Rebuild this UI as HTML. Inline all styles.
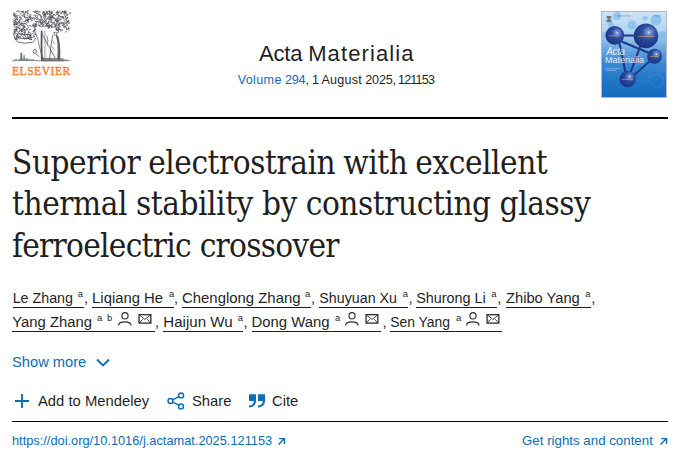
<!DOCTYPE html>
<html lang="en">
<head>
<meta charset="utf-8">
<title>Superior electrostrain with excellent thermal stability by constructing glassy ferroelectric crossover - Acta Materialia</title>
<style>
*{margin:0;padding:0;box-sizing:border-box}
html,body{width:677px;height:454px;overflow:hidden;background:#fff}
body{position:relative;font-family:"Liberation Sans",Arial,sans-serif;color:#1f1f1f}
a{color:#0b6db3;text-decoration:none}
.abs{position:absolute;white-space:nowrap}
#logo{left:12px;top:9px;width:60px;height:68px}
#elsevier{left:12px;top:64.4px;font-family:"Liberation Serif",serif;font-size:11.5px;line-height:14px;letter-spacing:0.55px;color:#f47b26;-webkit-text-stroke:0.35px #f47b26}
#jtitle{left:0;width:677px;height:26px;top:40.7px;font-size:22px;line-height:26px;color:#1f1f1f}
#jtitle span{position:absolute;top:0}
#jvol{left:0;width:677px;top:71px;height:18px;font-size:12.6px;line-height:18px;color:#1f1f1f}
#jvol span{position:absolute;top:0;white-space:pre}
#cover{left:601px;top:11px;width:66px;height:87px}
.hr1{left:12px;top:117px;width:656px;height:2px;background:#000}
.hr2{left:12px;top:421px;width:656px;height:1px;background:#000}
#title{left:12px;top:141.5px;font-weight:normal;font-family:"DejaVu Serif Condensed","DejaVu Serif","Liberation Serif",serif;font-size:33px;line-height:41.9px;color:#1f1f1f;letter-spacing:-0.45px}
.au{position:absolute;height:20px;font-size:14.6px;line-height:20px;color:#1f1f1f;white-space:nowrap;border-bottom:1px solid #1f1f1f}
.au .s{position:absolute;font-size:9.4px;line-height:10px;top:0.85px}
.au svg{position:absolute}
.cm{position:absolute;font-size:14.6px;line-height:20px}
#show{left:12px;top:353px;font-size:14.7px;line-height:18px;color:#0b6db3}
#act{left:0;top:391px;width:400px;height:22px;font-size:14.8px;line-height:20px;color:#1f1f1f}
#act span, #act svg{position:absolute}
#doi{left:12px;top:433px;font-size:12.8px;line-height:16px}
#rights{left:522px;top:433px;font-size:13.3px;line-height:16px}
</style>
</head>
<body>

<div class="abs" id="logo"><svg width="60" height="68" viewBox="12 9 60 68">
<g fill="none" stroke="#50555b" stroke-linecap="round">
<path stroke-width="0.7" d="M65.7 26.1Q64.5 27.3 63.3 26.0M23.6 25.5Q25.5 25.7 25.0 27.2M35.6 25.7Q34.2 24.6 35.4 23.2M57.4 21.4Q55.8 22.0 55.9 20.5M39.1 19.8Q40.6 18.5 42.1 19.8M31.0 18.2Q31.8 19.7 30.6 19.7M61.3 23.4Q63.0 21.8 63.9 22.7M65.8 12.3Q63.6 13.0 64.0 14.0M28.4 13.4Q28.2 15.9 26.9 16.0M53.3 10.9Q52.1 12.4 51.2 11.3M23.9 35.0Q25.9 35.4 25.5 36.8M14.1 16.8Q16.1 15.8 16.5 16.7M21.3 25.3Q22.9 26.6 23.7 25.4M17.2 17.5Q17.3 15.8 16.3 16.4M62.4 16.6Q64.3 17.1 64.0 19.0M22.0 31.6Q21.4 30.0 19.7 30.7M47.4 24.6Q47.8 26.4 48.6 25.5M53.2 19.1Q55.0 18.3 54.2 17.0M20.2 26.6Q18.2 25.7 18.8 24.6M65.3 17.3Q66.7 18.6 67.1 17.5M18.3 15.1Q17.5 16.7 16.4 15.7M65.6 26.4Q65.2 28.4 64.5 27.9M49.3 26.7Q48.1 25.0 49.0 24.8M65.2 22.3Q65.9 20.7 64.0 19.7M14.7 27.2Q16.1 28.7 17.2 27.5M47.7 13.2Q47.7 11.2 45.8 10.9M46.1 25.3Q45.8 23.5 46.9 24.0M18.0 11.2Q19.7 12.0 19.5 10.8M50.6 25.3Q52.6 25.1 52.1 24.1M34.9 30.0Q33.3 30.8 34.3 31.5M64.1 11.9Q66.6 11.8 66.8 13.0M60.4 23.3Q58.7 21.9 57.9 23.0M60.2 19.8Q59.9 17.9 58.3 18.3M30.6 37.0Q32.0 38.3 32.2 37.2M56.8 19.4Q56.0 17.5 57.3 16.8M52.0 17.2Q51.4 18.6 50.4 17.4M43.5 11.7Q44.9 13.3 43.9 14.3M54.2 14.9Q52.9 16.5 51.9 15.5M24.7 34.7Q24.5 32.5 25.7 32.5M68.7 28.5Q67.9 26.7 69.2 26.6M17.7 25.3Q17.1 23.7 15.2 24.5M37.4 11.7Q35.6 12.6 35.0 11.2M56.2 25.2Q54.2 25.8 53.7 24.2M61.1 29.3Q61.6 31.2 60.3 31.1M21.0 28.7Q19.6 30.0 20.7 30.9M42.4 23.9Q44.0 22.4 43.1 21.7M58.6 24.0Q57.4 25.6 58.7 26.2M40.2 21.1Q39.9 23.3 41.0 23.4M57.4 11.3Q56.8 13.0 58.0 12.9M20.0 27.6Q19.0 29.3 20.0 29.3M48.1 28.5Q48.1 26.6 49.6 26.8M61.5 31.0Q63.0 31.2 62.6 29.6M31.0 21.1Q31.0 19.6 32.6 20.2M20.6 18.5Q19.2 17.4 20.4 16.7M66.6 28.7Q65.2 27.4 66.2 27.0M45.5 22.5Q47.2 21.8 46.3 20.7M52.1 16.8Q53.4 16.0 53.5 17.5M40.4 16.9Q41.7 16.3 41.7 18.0M65.8 13.7Q67.6 15.5 68.5 14.8M18.5 23.6Q18.0 25.3 16.8 24.5M13.8 34.0Q15.5 33.5 14.7 32.6M47.5 13.7Q46.5 12.4 48.0 11.8M48.9 24.1Q48.8 22.4 47.1 22.8M59.4 24.1Q61.3 24.3 61.7 22.4M56.6 24.1Q57.5 22.6 56.4 22.6M15.8 19.6Q16.6 18.1 17.6 19.2M14.3 31.1Q15.5 29.8 14.2 29.3M56.4 32.2Q57.0 33.5 58.2 32.3M59.1 13.1Q57.0 13.0 57.0 11.5M66.5 23.4Q68.1 21.9 69.2 22.9M41.2 20.0Q39.4 19.8 39.7 21.2M16.0 21.1Q13.8 21.5 14.1 22.5M64.6 24.9Q62.4 26.2 61.7 25.3M18.6 37.6Q18.8 36.0 20.0 36.8M19.6 31.4Q18.6 32.9 17.9 31.9M21.8 22.7Q21.6 24.4 23.1 24.3M51.9 22.7Q50.6 21.6 51.8 20.0M54.9 18.5Q55.6 20.7 57.0 20.3M52.8 16.9Q53.9 18.3 52.5 18.6M50.2 17.1Q48.4 15.9 49.2 14.9M18.8 28.6Q20.3 28.0 20.2 29.3M49.0 23.0Q47.6 21.9 47.3 23.2M58.7 25.5Q58.4 23.3 59.9 23.0M55.6 23.6Q55.5 25.4 56.6 24.9M23.5 32.4Q22.3 30.6 21.6 31.4M17.7 29.4Q16.4 28.2 15.2 29.6M13.5 20.9Q15.5 21.1 15.5 19.6M56.6 21.5Q58.4 21.4 57.8 20.3M19.7 34.3Q18.5 32.4 17.1 33.1M58.8 20.7Q58.9 22.8 57.9 22.6M34.0 23.6Q36.0 24.5 35.3 25.5M29.0 11.2Q28.3 9.9 26.8 11.0M16.7 28.8Q15.9 27.2 17.0 27.3M19.0 21.0Q20.5 19.9 21.4 21.4M50.0 18.7Q49.0 20.3 50.5 21.3M35.5 21.8Q37.3 22.7 37.9 21.3M58.9 12.9Q59.3 11.5 57.8 11.9M49.5 28.0Q50.5 26.6 48.8 25.4M65.2 18.7Q67.1 19.6 66.5 20.8M35.2 28.2Q33.7 30.0 34.8 31.0M19.5 32.2Q18.4 31.1 19.8 30.5M14.0 26.6Q13.5 24.7 14.6 24.8M25.4 18.4Q23.9 17.1 24.9 16.1M64.0 24.0Q65.8 24.4 66.4 22.4M40.6 24.0Q41.8 22.4 43.0 23.3M25.6 12.2Q27.0 13.0 28.1 11.3M57.9 12.4Q59.6 13.0 60.4 11.1M38.7 18.8Q36.3 18.8 36.2 20.1M31.3 19.2Q33.2 19.0 32.9 17.6M16.0 29.7Q17.5 29.8 16.8 31.2M17.7 19.5Q18.8 18.4 17.4 18.0M17.7 35.6Q16.3 36.5 15.6 35.0M43.0 15.8Q44.7 15.1 43.9 14.1M51.0 12.7Q51.3 14.3 52.5 13.5M19.9 25.4Q22.1 24.7 21.6 23.5M45.2 25.8Q46.6 24.6 48.1 26.0M21.7 31.5Q23.4 32.2 24.1 30.5M44.7 13.4Q46.3 14.4 45.4 15.3M66.9 29.4Q67.6 27.4 66.6 27.4M21.0 13.7Q19.2 12.4 19.9 11.4M15.1 26.0Q13.6 24.9 14.6 24.5M20.1 24.1Q20.6 25.8 22.7 25.4M20.9 17.4Q21.1 19.5 22.4 19.4M36.5 11.0Q36.1 12.9 34.4 12.5M47.7 11.1Q45.9 12.2 46.7 12.8M34.5 27.6Q33.9 25.3 35.2 24.9M43.7 20.5Q45.1 21.8 44.0 22.9M66.3 29.5Q68.5 28.8 68.8 29.9M40.2 24.5Q38.6 25.1 39.5 25.8M63.3 25.7Q61.9 24.7 63.1 23.9M47.3 14.6Q49.0 13.7 48.1 12.9M23.6 28.9Q24.8 28.0 24.9 29.5M20.9 35.8Q21.3 33.4 22.5 33.5M36.5 11.6Q35.2 10.3 34.9 11.3M42.6 19.3Q41.2 20.1 40.9 18.5M57.9 24.0Q56.6 22.8 56.3 24.0M36.3 25.0Q35.2 23.2 33.7 23.9M55.9 20.7Q54.6 21.4 54.6 19.9M62.7 22.9Q60.6 23.4 60.5 22.2M55.6 29.5Q56.2 27.7 56.8 28.6M59.5 23.8Q59.3 25.9 58.0 25.6M38.9 21.0Q37.5 21.0 38.2 22.5M24.6 39.3Q25.5 38.2 24.0 37.9M33.2 26.3Q35.1 27.2 34.5 28.8M30.4 37.9Q31.7 38.9 32.2 37.5M20.7 33.8Q21.9 32.1 22.6 33.0M62.1 14.5Q60.5 13.8 61.4 12.8M29.8 19.7Q29.1 18.0 30.6 17.5M26.1 20.6Q28.3 20.6 28.3 19.5M51.1 26.0Q53.2 25.7 53.6 27.3M15.6 30.6Q16.3 32.4 15.2 32.3M14.6 37.0Q14.3 38.7 16.3 39.3M16.6 36.5Q18.1 37.1 18.3 35.5M22.9 36.6Q24.7 37.1 24.1 38.7M44.2 19.1Q45.1 17.2 43.7 16.6M25.6 29.9Q24.6 31.2 24.2 29.9M62.8 16.5Q62.1 17.8 63.6 17.7M61.8 11.5Q63.5 11.2 63.1 12.6M16.1 24.7Q16.8 23.0 15.2 22.2M42.1 23.2Q41.1 25.1 42.1 25.4M36.4 22.7Q37.9 24.7 37.0 25.6M44.7 26.3Q46.1 24.4 47.4 25.1M26.0 20.8Q27.8 19.2 28.7 19.9M16.3 22.0Q14.6 20.7 15.4 19.4M23.5 28.9Q25.1 29.2 24.4 30.4M56.3 26.3Q55.3 27.7 53.9 26.5M24.7 23.3Q25.0 24.9 26.9 24.4M48.4 27.9Q47.2 26.2 48.3 25.7M33.6 15.6Q34.0 14.0 35.4 14.9M64.7 11.2Q65.5 12.6 63.8 13.0M34.7 19.1Q36.8 18.8 36.5 17.4M26.6 11.9Q28.6 12.7 28.0 13.8M36.4 26.5Q36.9 24.5 35.6 24.4M38.7 23.1Q40.9 22.8 40.7 21.3M25.9 20.3Q26.5 21.7 24.9 21.7M55.6 26.7Q56.9 28.1 58.2 26.9M16.8 39.1Q15.7 40.0 15.0 38.4M62.5 18.4Q62.2 16.5 61.5 17.2M41.1 26.9Q43.0 27.2 42.8 26.1M65.8 17.3Q64.7 15.8 66.0 15.3M58.8 26.5Q57.5 27.9 58.7 29.3M14.3 23.6Q12.6 23.9 13.3 24.7M63.5 12.9Q64.4 14.4 65.4 13.3M27.9 32.9Q27.1 34.2 28.8 34.9M36.4 24.4Q34.9 26.1 36.0 27.1M64.8 11.8Q64.9 13.7 66.3 13.4M27.7 17.9Q25.5 16.6 24.9 17.5M56.6 13.1Q58.5 11.8 57.9 10.6M35.6 15.7Q34.7 17.2 36.2 17.3M34.1 20.1Q32.8 18.8 34.0 17.8M30.7 38.9Q28.6 39.8 28.2 38.7M16.0 19.0Q14.1 17.8 13.4 18.9M49.2 22.8Q47.7 22.7 48.5 21.3M60.2 29.5Q58.5 29.0 58.0 30.7M20.1 23.1Q18.7 23.2 19.3 21.6M28.3 19.6Q27.0 20.6 28.2 22.0M53.7 14.5Q55.3 13.7 55.4 15.0M61.8 16.2Q62.9 18.0 63.7 17.1M54.1 24.2Q56.0 24.5 55.6 26.0M58.6 15.4Q57.7 16.6 59.3 16.8M37.7 15.6Q38.0 13.7 39.0 14.4M35.8 21.3Q36.2 23.0 37.3 22.1M13.2 21.8Q13.4 23.9 14.9 23.8M35.6 12.4Q34.2 10.8 33.2 11.7M23.0 11.4Q24.7 12.1 23.8 12.8M14.4 29.1Q16.5 28.9 16.3 29.9M33.8 36.2Q32.4 37.4 33.6 38.0M14.3 29.8Q13.3 31.3 14.6 31.8M48.7 25.6Q47.2 26.0 48.2 27.0M28.1 17.7Q29.7 18.0 28.7 19.0M51.8 16.4Q52.3 18.2 53.1 17.4M14.3 23.9Q16.1 23.5 15.7 24.4M23.0 12.7Q22.2 10.8 21.0 11.5M67.9 17.9Q67.6 19.6 65.8 19.2M17.0 23.6Q19.1 23.9 19.5 22.2M16.2 31.2Q14.3 31.6 15.0 32.9M45.4 14.3Q47.3 13.5 46.7 12.2M41.6 23.1Q40.3 24.0 40.2 22.7M38.7 20.0Q39.9 21.5 40.2 20.4M55.1 21.0Q55.8 18.6 54.8 18.0M64.1 14.2Q65.9 15.0 65.3 16.9M58.5 27.6Q59.2 26.3 60.0 27.6M27.3 37.5Q25.2 37.0 25.1 38.2M28.9 32.1Q29.3 33.7 31.0 33.1M17.1 27.1Q18.8 26.4 19.7 28.1M21.7 22.8Q21.3 24.1 22.8 23.6M25.5 20.2Q25.2 21.8 23.5 21.4M24.8 31.6Q25.0 29.6 26.6 29.8M50.5 17.5Q52.1 18.5 51.2 20.0M39.6 14.8Q40.3 17.0 41.8 16.8M13.5 12.8Q12.6 14.4 14.2 15.3M24.4 12.9Q23.1 14.4 24.2 14.9M20.6 14.6Q21.5 16.6 22.5 15.9M46.0 20.0Q45.8 18.4 47.3 18.7M47.3 25.5Q47.9 27.2 49.2 26.3M50.5 19.5Q48.9 18.6 49.8 18.3M34.4 30.4Q36.3 30.0 35.7 28.9M18.0 22.7Q16.4 22.5 16.2 24.5M51.1 15.7Q51.6 17.4 52.6 16.5M50.2 12.5Q49.2 13.9 50.4 14.0M26.1 28.6Q26.0 30.2 27.3 29.6M42.4 13.7Q43.9 13.3 42.8 12.4M21.9 22.9Q21.2 25.2 20.1 25.0M45.1 12.8Q44.1 14.7 45.3 15.2M57.3 18.8Q57.1 20.4 56.0 19.5M22.7 14.0Q24.9 15.0 24.5 16.2M45.2 16.3Q42.9 15.9 43.0 14.3M13.6 15.7Q15.4 14.2 14.7 13.3M43.3 11.5Q45.1 11.4 44.7 12.7M30.1 17.7Q28.6 16.1 27.7 17.1M64.5 23.7Q62.9 25.3 63.7 26.2M17.8 37.0Q15.8 37.2 16.0 38.6M15.8 38.5Q16.8 40.2 17.9 39.3M25.7 13.8Q24.3 13.5 24.4 15.2M54.8 23.0Q55.0 21.6 53.5 22.1M33.8 30.5Q33.7 32.4 32.6 31.9M56.0 12.3Q56.0 13.8 57.5 13.3M45.6 13.8Q43.8 13.7 44.2 14.8M31.1 37.9Q30.1 36.8 31.7 35.6M40.9 23.7Q41.2 25.3 42.4 24.6M55.9 29.9Q57.7 31.2 58.5 30.0M59.8 16.3Q61.9 16.1 62.0 17.5M38.5 25.1Q40.0 24.8 39.9 26.4M67.5 22.4Q67.3 20.3 68.8 20.2M18.5 21.4Q20.4 21.6 20.4 23.6M39.9 11.6Q38.2 11.0 38.1 12.4M52.3 23.5Q51.2 22.5 52.6 22.0M34.5 37.4Q34.9 35.5 33.6 35.5M46.3 26.6Q48.0 27.5 48.2 26.4M27.9 35.0Q26.5 35.7 26.3 34.1M27.5 18.6Q29.1 20.0 28.2 21.4M18.8 20.8Q20.4 20.7 19.7 19.6M44.4 21.7Q44.2 23.6 46.1 24.0M18.6 36.8Q17.9 38.6 18.9 38.5M56.6 30.0Q58.9 29.8 58.9 28.3M29.6 39.2Q28.2 38.0 29.3 37.4M51.1 20.1Q49.2 20.6 49.4 19.4M29.2 19.8Q27.8 21.0 26.5 19.6M44.0 14.9Q46.1 14.7 46.3 16.3M57.2 19.2Q58.3 21.0 59.9 20.2M43.9 26.6Q42.5 26.4 43.2 24.8M32.9 18.3Q33.8 16.7 34.4 17.8M67.8 17.0Q67.3 19.1 66.5 18.5M51.0 12.8Q52.8 11.9 53.3 13.2M51.7 13.4Q50.2 12.8 50.9 11.1M18.8 15.2Q20.5 16.2 19.7 17.5M32.1 34.0Q32.9 32.3 34.9 32.9M66.3 11.2Q65.2 10.0 64.0 11.3M17.9 27.9Q18.9 26.4 19.3 27.5M36.6 15.5Q38.3 17.1 37.5 17.7M16.9 37.1Q18.9 38.0 19.6 36.7M25.5 23.6Q25.7 21.9 26.9 22.6M43.0 21.7Q41.5 21.6 42.0 19.8M36.6 17.2Q38.1 17.9 37.1 19.3M32.0 18.5Q32.4 16.8 30.9 17.0M14.3 20.9Q15.9 20.2 16.3 21.8M58.0 28.6Q60.2 28.3 60.4 29.8M15.6 29.2Q17.2 29.1 17.2 31.0M57.6 21.8Q59.1 20.9 58.1 19.9M16.0 11.6Q17.4 10.1 18.0 11.0M21.1 34.4Q21.5 32.9 22.7 33.9M26.5 38.9Q28.6 38.7 28.4 37.3M19.8 19.6Q20.1 18.1 21.3 19.1M51.6 14.6Q49.8 15.4 50.5 16.7M56.4 28.1Q57.7 26.7 57.9 27.6M49.4 14.0Q47.3 13.0 46.6 14.3M44.0 19.9Q45.1 18.9 45.9 20.5M14.4 24.7Q15.6 23.1 16.7 24.1M23.4 11.0Q22.0 11.2 22.9 12.4M27.3 35.4Q26.9 37.1 28.1 36.8M46.5 19.1Q47.5 17.4 48.5 18.4M30.9 29.1Q28.7 29.2 28.8 30.5M18.5 33.5Q16.8 33.7 17.2 35.4M58.6 32.3Q58.9 30.1 57.7 30.0M39.3 13.5Q38.5 14.8 37.2 13.5M29.0 25.3Q31.0 25.0 31.3 26.7M35.7 11.9Q37.4 13.0 36.5 14.2M41.7 22.0Q40.7 23.2 42.2 23.6M58.7 16.4Q58.5 14.4 59.4 14.7M50.5 26.3Q50.9 24.7 49.0 24.3M49.7 12.7Q50.5 11.4 48.9 11.3M30.7 16.7Q29.0 15.9 29.8 14.3M51.1 25.1Q50.8 26.9 49.4 26.2M66.8 31.9Q64.9 31.0 64.8 32.0M63.4 27.2Q64.2 25.8 65.1 27.0M42.4 21.1Q41.0 21.8 42.2 22.8M66.7 21.6Q68.8 21.9 69.3 20.3M46.1 20.6Q45.0 22.1 44.6 21.0M43.5 26.3Q42.2 25.7 43.5 24.5M33.8 25.0Q31.8 25.0 32.2 26.2M43.3 17.7Q44.7 15.8 45.6 16.4M56.5 29.1Q56.4 27.0 54.6 26.8M36.9 10.9Q38.5 10.4 38.4 11.8M57.9 30.1Q58.3 28.5 59.5 29.4M39.0 25.0Q39.0 26.6 40.7 26.3M16.2 12.9Q14.8 13.8 15.9 15.4M57.7 18.7Q59.3 17.5 58.4 17.1M53.5 14.8Q55.4 14.2 55.5 15.5M48.3 17.5Q47.0 18.6 48.4 20.1M49.4 21.7Q50.6 23.2 52.1 22.1M62.6 16.9Q63.5 18.4 64.1 17.2M33.9 25.1Q32.9 26.7 32.0 25.7M30.3 36.4Q28.8 35.5 28.2 37.0M51.6 27.4Q50.9 25.6 52.5 24.7M29.9 34.8Q31.8 35.4 32.2 34.0M50.2 18.1Q51.7 16.8 50.5 15.8M32.6 24.8Q33.4 26.6 34.3 25.9M15.9 17.7Q16.6 16.3 15.1 16.5M46.0 18.9Q44.5 18.4 45.4 16.7M20.8 36.7Q20.9 38.9 19.6 38.9M41.2 16.1Q40.6 13.9 39.2 14.1M58.9 24.6Q58.9 26.6 60.4 26.4M44.8 25.2Q45.5 26.6 46.6 25.5M17.3 20.6Q15.5 19.4 16.4 18.2M28.6 22.5Q27.7 21.1 27.2 22.2M47.8 17.4Q49.5 16.4 50.7 17.9M28.1 26.9Q29.1 25.9 27.6 25.5M25.0 34.1Q23.5 33.6 24.4 32.2M29.0 27.4Q27.0 28.2 27.6 29.2M68.0 21.9Q67.6 23.4 66.0 22.7M51.6 16.2Q51.8 18.0 50.0 18.2M31.2 39.1Q30.2 37.9 29.7 39.3M15.7 33.8Q18.1 33.7 18.2 34.9M15.5 22.3Q17.6 23.1 17.9 22.1M28.5 32.8Q29.4 31.5 27.9 31.0M25.6 11.2Q24.4 12.5 25.6 12.6M22.9 15.9Q25.0 16.0 24.9 17.4M52.5 27.3Q50.6 26.9 50.7 28.3M25.8 11.2Q26.7 12.5 25.3 12.6M29.3 16.9Q31.2 16.7 31.1 14.9"/>
<path stroke-width="1.05" d="M55.4 25.7h0.9M60.6 13.0h0.8M68.3 28.7h1.0M30.7 39.4h1.0M69.4 13.0h1.3M13.8 15.5h0.9M49.5 14.2h1.0M66.5 25.1h1.1M22.9 26.0h1.2M51.4 17.8h0.9M44.0 21.8h1.0M49.0 11.1h0.8M50.4 17.7h0.7M56.4 21.7h1.3M44.8 13.9h1.0M27.9 37.8h1.1M56.2 12.4h0.6M58.5 15.2h0.7M14.7 16.0h0.9M67.6 21.3h0.8M60.2 16.7h1.0M15.5 29.4h0.9M59.9 19.0h1.1M23.6 27.1h1.3M26.7 19.8h1.2M51.4 12.7h0.7M26.5 20.2h1.2M34.8 34.5h0.9M16.4 27.0h0.9M43.3 12.1h0.6M69.0 22.9h0.8M21.5 30.3h1.2M23.3 27.3h0.9M56.7 29.4h0.8M23.8 34.8h0.7M62.3 11.6h0.7M15.9 38.1h0.7M22.3 11.8h0.6M63.0 23.3h0.7M15.7 38.9h1.0M65.2 11.8h0.7M29.3 16.9h0.7M24.4 32.0h0.7M22.6 28.4h0.9M21.5 29.5h1.0M35.1 26.4h0.6M48.1 17.0h0.8M46.5 23.6h1.0M66.6 14.9h0.9M53.4 23.0h1.1M64.8 11.9h0.8M29.7 35.6h1.1M23.6 23.7h1.2M56.6 14.3h1.3M33.6 30.8h1.3"/>
<path stroke-width="0.85" d="M14 32Q13.2 38.5 17.5 41.8Q24 44.5 32.5 42.2Q35 41 35.5 38.5M16.5 36.5Q22 40.2 31 37.8M19 33.5Q24 36 30 34.5"/>
<path stroke-width="0.7" d="M35.5 32.5Q38.5 40 39.5 47Q41 54 43.5 59.5"/>
<path stroke-width="1.8" d="M41.7 31.5Q41.3 45 41.8 59.5"/>
<path stroke-width="0.6" d="M44.8 31.5Q45.2 45 44.9 58"/>
<path stroke-width="0.7" d="M42 34L55.2 58M47 36Q48.5 40 47.5 45"/>
<path stroke-width="0.8" d="M34.8 49.4Q32 50.6 33.4 53Q35.4 54.4 36.4 52.2Q37 50 34.8 49.4M35.6 53.2L38.6 56.5"/>
<path stroke-width="0.75" d="M52.8 35.4Q50.6 45 49.6 59.3M54.2 32.6Q55.6 31.6 56.6 33Q57 35 55.2 35.6Q53.6 35.4 54.2 32.6"/>
<path stroke-width="0.5" d="M52 40L55 44M51.5 46L54.5 50M51 52L54 55"/>
<path stroke-width="0.7" d="M12.5 60.8Q24 60.2 36 60.6Q50 61 70 60.6"/>
<path stroke-width="0.6" d="M15 59.6l2 -0.3M27 59.2l3 0.2M31 59.8l2.5-0.4M64 59.8l3 0.2"/>
</g>
<g fill="#50555b">
<path d="M56.2 34.4Q58 35 58.8 38Q60.4 45 60.3 52Q60.4 56 60.2 59.6L57.2 59.6Q57.8 52 57.6 45Q57.2 39 55.8 36Z" opacity="0.92"/>
<path d="M41 57.8L63.5 58.2L63.8 61.2L41 61.2Z" opacity="0.7"/>
<path d="M20.6 53.2Q21.4 51.6 22.1 53.2L22.4 59.6L20.2 59.6Z" opacity="0.85"/>
<path d="M23.4 55.2Q24.2 54 24.8 55.6L25.2 59.6L23.2 59.6Z" opacity="0.6"/>
<path d="M18.5 58.4L28 58.6L28 60.4L18.5 60.4Z" opacity="0.55"/>
</g>
</svg></div>
<div class="abs" id="elsevier">ELSEVIER</div>

<div class="abs" id="jtitle"><span style="left:259px;letter-spacing:-0.2px">Acta</span> <span style="left:308.2px;letter-spacing:1.1px">Materialia</span></div>
<div class="abs" id="jvol"><a href="#"><span style="left:237.7px;letter-spacing:0.34px">Volume</span> <span style="left:285px;letter-spacing:-0.25px">294</span></a><span style="left:305.6px">, </span><span style="left:312.1px">1</span> <span style="left:321.4px;letter-spacing:0.22px">August</span> <span style="left:365.3px;letter-spacing:-0.18px">2025</span><span style="left:392.6px">, </span><span style="left:398px;letter-spacing:-0.82px">121153</span></div>

<div class="abs" id="cover"><svg width="66" height="87" viewBox="0 0 66 87">
<defs>
<linearGradient id="cbg" x1="0" y1="0" x2="0" y2="1">
<stop offset="0" stop-color="#cfe3f5"/>
<stop offset="0.22" stop-color="#b3d4f1"/>
<stop offset="0.42" stop-color="#6eaae2"/>
<stop offset="0.6" stop-color="#3b89d5"/>
<stop offset="0.8" stop-color="#2176c7"/>
<stop offset="1" stop-color="#176bbd"/>
</linearGradient>
<radialGradient id="sph" cx="0.62" cy="0.36" r="0.72">
<stop offset="0" stop-color="#dfe6fa"/>
<stop offset="0.1" stop-color="#7f95d6"/>
<stop offset="0.4" stop-color="#2c4c9f"/>
<stop offset="1" stop-color="#172f78"/>
</radialGradient>
</defs>
<rect x="0" y="0" width="66" height="87" fill="#b4b8bc"/>
<rect x="1" y="1" width="64" height="85" fill="url(#cbg)"/>
<g fill="#7fbdec" opacity="0.75">
<circle cx="16" cy="5" r="4"/><circle cx="31" cy="14" r="4.5"/><circle cx="55" cy="9" r="5.5"/>
<circle cx="62" cy="24" r="4"/><circle cx="10" cy="14" r="3"/><circle cx="4" cy="24" r="3"/>
<circle cx="36" cy="33" r="3.5"/><circle cx="44" cy="7" r="2.5"/>
</g>
<g fill="none" stroke="#9ccaf0" stroke-width="0.5" opacity="0.3">
<circle cx="40" cy="62" r="9"/><circle cx="56" cy="70" r="7"/><circle cx="58" cy="40" r="9"/>
</g>
<g fill="#5f6770" opacity="0.85"><path d="M5.5 5h5v2.2h-1.2v1.5h1.2v2.5h-5v-2.5h1.2v-1.5h-1.2z"/></g>
<g fill="#2b3f60" opacity="0.5"><rect x="16" y="4.6" width="14" height="0.7"/><rect x="53" y="4.6" width="6.5" height="0.7"/></g>
<g stroke="#1d3a88" stroke-width="2.1" fill="none" stroke-linecap="round">
<path d="M14 24.5L45 24.5"/>
<path d="M17 29L53 44"/>
<path d="M18 30L25 64"/>
<path d="M40 33L29 63"/>
<path d="M50 49L31 66"/>
</g>
<circle cx="13.8" cy="24.4" r="9.3" fill="url(#sph)"/>
<circle cx="45" cy="24.9" r="12.3" fill="url(#sph)"/>
<circle cx="53.6" cy="45.2" r="7.5" fill="url(#sph)"/>
<circle cx="26.8" cy="68" r="8.3" fill="url(#sph)"/>
<g fill="#d4b23e" opacity="0.65">
<rect x="7.5" y="24.4" width="12" height="0.9"/>
<rect x="37" y="24.9" width="16.5" height="0.9"/>
<rect x="49" y="45.2" width="9" height="0.8"/>
<rect x="21" y="68.2" width="11" height="0.8"/>
</g>
<g fill="#ffffff" font-family="Liberation Sans, sans-serif" opacity="0.85">
<text x="5.4" y="43.6" font-size="10.5" font-style="italic" textLength="18.6" lengthAdjust="spacingAndGlyphs">Acta</text>
<text x="4" y="51.6" font-size="9.2" textLength="39" lengthAdjust="spacingAndGlyphs">Materialia</text>
</g>
<g fill="#e8f1fb" opacity="0.6"><rect x="5" y="57.5" width="14" height="0.6"/><rect x="5" y="59.2" width="10" height="0.6"/></g>
</svg>
</div>

<div class="abs hr1"></div>

<h1 class="abs" id="title"><span style="word-spacing:-1px">Superior electrostrain with excellent</span><br>thermal stability by constructing glassy<br><span style="letter-spacing:-0.72px">ferroelectric crossover</span></h1>

<a class="au" href="#" style="left:12.7px;top:288px;width:71.1px"><span style="font-size:14.27px">Le Zhang</span><span class="s" style="left:65.0px">a</span></a><span class="cm" style="left:84.1px;top:288px">,</span>
<a class="au" href="#" style="left:92.1px;top:288px;width:81.6px"><span style="font-size:14.83px">Liqiang He</span><span class="s" style="left:76.8px">a</span></a><span class="cm" style="left:174.1px;top:288px">,</span>
<a class="au" href="#" style="left:182.0px;top:288px;width:128.5px"><span style="font-size:14.92px">Chenglong Zhang</span><span class="s" style="left:122.9px">a</span></a><span class="cm" style="left:310.9px;top:288px">,</span>
<a class="au" href="#" style="left:319.3px;top:288px;width:88.7px"><span style="font-size:14.26px">Shuyuan Xu</span><span class="s" style="left:83.4px">a</span></a><span class="cm" style="left:408.5px;top:288px">,</span>
<a class="au" href="#" style="left:416.2px;top:288px;width:80.6px"><span style="font-size:14.38px">Shurong Li</span><span class="s" style="left:75.1px">a</span></a><span class="cm" style="left:497.3px;top:288px">,</span>
<a class="au" href="#" style="left:506.0px;top:288px;width:84.8px"><span style="font-size:14.70px">Zhibo Yang</span><span class="s" style="left:79.3px">a</span></a><span class="cm" style="left:591.3px;top:288px">,</span>
<a class="au" href="#" style="left:12.3px;top:312px;width:142.7px"><span style="font-size:14.84px">Yang Zhang</span><span class="s" style="left:84.6px">a</span><span class="s" style="left:94.6px">b</span><svg style="left:104.9px;top:-2px" width="16" height="17" viewBox="0 0 16 17"><g fill="none" stroke="#2e2e2e" stroke-width="1.15"><ellipse cx="8" cy="5.8" rx="3.05" ry="3.15"/><path d="M1.6 15.4C1.6 13.2 4.2 11.8 7.8 11.8C11.4 11.8 14 13.2 14 15.4"/></g></svg><svg style="left:125.1px;top:1px" width="16" height="13" viewBox="0 0 16 13"><g fill="none" stroke="#2e2e2e"><rect x="2.05" y="1.7" width="11.8" height="8.4" stroke-width="1.3"/><path d="M2.2 1.9L7.95 6.4L13.7 1.9M2.3 10L5.7 6.2M13.6 10L10.2 6.2" stroke-width="0.9"/></g></svg></a><span class="cm" style="left:155.1px;top:312px">,</span>
<a class="au" href="#" style="left:163.3px;top:312px;width:79.7px"><span style="font-size:15.08px">Haijun Wu</span><span class="s" style="left:74.4px">a</span></a><span class="cm" style="left:243.5px;top:312px">,</span>
<a class="au" href="#" style="left:251.6px;top:312px;width:129.8px"><span style="font-size:14.87px">Dong Wang</span><span class="s" style="left:83.3px">a</span><svg style="left:92.9px;top:-2px" width="16" height="17" viewBox="0 0 16 17"><g fill="none" stroke="#2e2e2e" stroke-width="1.15"><ellipse cx="8" cy="5.8" rx="3.05" ry="3.15"/><path d="M1.6 15.4C1.6 13.2 4.2 11.8 7.8 11.8C11.4 11.8 14 13.2 14 15.4"/></g></svg><svg style="left:112.6px;top:1px" width="16" height="13" viewBox="0 0 16 13"><g fill="none" stroke="#2e2e2e"><rect x="2.05" y="1.7" width="11.8" height="8.4" stroke-width="1.3"/><path d="M2.2 1.9L7.95 6.4L13.7 1.9M2.3 10L5.7 6.2M13.6 10L10.2 6.2" stroke-width="0.9"/></g></svg></a><span class="cm" style="left:382.6px;top:312px">,</span>
<a class="au" href="#" style="left:390.2px;top:312px;width:111.7px"><span style="font-size:13.91px">Sen Yang</span><span class="s" style="left:65.7px">a</span><svg style="left:74.6px;top:-2px" width="16" height="17" viewBox="0 0 16 17"><g fill="none" stroke="#2e2e2e" stroke-width="1.15"><ellipse cx="8" cy="5.8" rx="3.05" ry="3.15"/><path d="M1.6 15.4C1.6 13.2 4.2 11.8 7.8 11.8C11.4 11.8 14 13.2 14 15.4"/></g></svg><svg style="left:94.6px;top:1px" width="16" height="13" viewBox="0 0 16 13"><g fill="none" stroke="#2e2e2e"><rect x="2.05" y="1.7" width="11.8" height="8.4" stroke-width="1.3"/><path d="M2.2 1.9L7.95 6.4L13.7 1.9M2.3 10L5.7 6.2M13.6 10L10.2 6.2" stroke-width="0.9"/></g></svg></a>

<div class="abs" id="show">Show more<svg style="position:absolute;left:84px;top:4.6px" width="14" height="9" viewBox="0 0 14 9"><path d="M1 1.5L7 7.5L13 1.5" fill="none" stroke="#0b6db3" stroke-width="1.9"/></svg></div>

<div class="abs" id="act">
<svg style="left:14px;top:2px" width="16" height="16" viewBox="0 0 16 16"><path d="M1 8H15M8 1V15" stroke="#0b6db3" stroke-width="1.9" fill="none"/></svg>
<span style="left:38px;top:0">Add to Mendeley</span>
<svg style="left:166px;top:0px" width="20" height="20" viewBox="0 0 20 20"><g fill="none" stroke="#0b6db3" stroke-width="1.45"><circle cx="4.5" cy="10" r="2.45"/><circle cx="15.1" cy="4.4" r="2.45"/><circle cx="15" cy="15.4" r="2.45"/><path d="M6.7 8.8L12.9 5.6M6.7 11.2L12.8 14.2"/></g></svg>
<span style="left:192px;top:0">Share</span>
<svg style="left:248px;top:2px" width="18" height="16" viewBox="0 0 18 16"><g fill="#0b6db3"><path d="M1 1.3H8V7.8C8 11.8 5.6 14.3 1 14.5V12.6C4 12.4 5.7 10.8 5.9 7.9H1Z"/><path d="M10 1.3H17V7.8C17 11.8 14.6 14.3 10 14.5V12.6C13 12.4 14.7 10.8 14.9 7.9H10Z"/></g></svg>
<span style="left:272px;top:0">Cite</span>
</div>

<div class="abs hr2"></div>

<a class="abs" id="doi" href="#">https://doi.org/10.1016/j.actamat.2025.121153<svg style="position:absolute;left:265px;top:4px" width="10" height="10" viewBox="0 0 10 10"><path d="M1.5 7.6L7.5 1.6M2.2 1.6H7.5V6.9" fill="none" stroke="#0b6db3" stroke-width="1.35"/></svg></a>
<a class="abs" id="rights" href="#">Get rights and content<svg style="position:absolute;left:136.6px;top:4px" width="10" height="10" viewBox="0 0 10 10"><path d="M1.5 7.6L7.5 1.6M2.2 1.6H7.5V6.9" fill="none" stroke="#0b6db3" stroke-width="1.35"/></svg></a>

</body>
</html>
